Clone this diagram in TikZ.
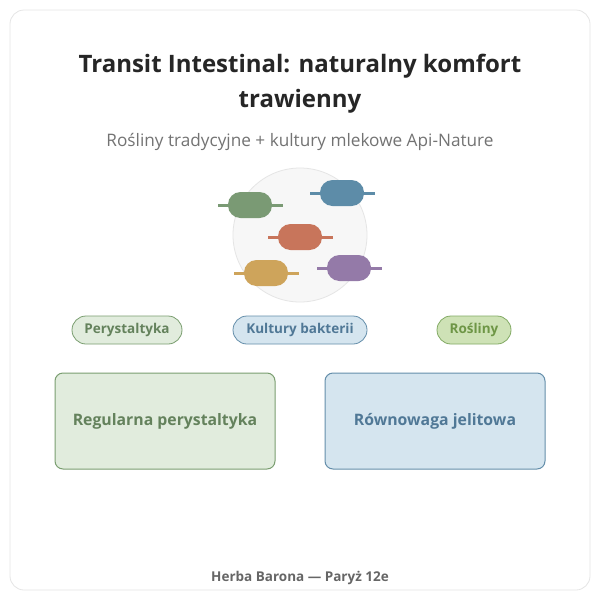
\documentclass[tikz,border=0pt]{standalone}
\usepackage{fontspec}
\setmainfont{Open Sans}
\begin{document}
\begin{tikzpicture}[x=1pt,y=-1pt,
 lab/.style={font=\bfseries\fontsize{13.5}{15}\selectfont}]
\useasboundingbox (0,0) rectangle (600,600);
\draw[draw=black!10,fill=white,rounded corners=14pt,line width=0.8pt] (10,10) rectangle (590,590);
\node[font=\bfseries\fontsize{24}{35}\selectfont,text=black!85,align=center] (t) at (300,84) {Transit Intestinal: naturalny komfort\\trawienny};
\node[font=\fontsize{17.2}{20}\selectfont,text=black!55] (s) at (300,142) {Rośliny tradycyjne + kultury mlekowe Api-Nature};
\node[circle,minimum size=134pt,fill=black!3,draw=black!10,line width=0.8pt] (c) at (300,235) {};
\foreach \x/\y/\c in {250/205/{rgb,255:red,122;green,154;blue,116},342/193/{rgb,255:red,93;green,140;blue,168},300/237/{rgb,255:red,200;green,117;blue,91},266/273/{rgb,255:red,206;green,164;blue,91},349/268/{rgb,255:red,148;green,122;blue,168}}{
 \draw[line width=3pt,color=\c] (\x-32,\y) -- (\x+33,\y);
 \fill[color=\c,rounded corners=12.5pt] (\x-22,\y-13) rectangle (\x+22,\y+13);
}
\definecolor{gf}{RGB}{225,236,221}\definecolor{gd}{RGB}{122,158,112}\definecolor{gt}{RGB}{100,130,92}
\definecolor{bf}{RGB}{213,229,239}\definecolor{bd}{RGB}{100,142,170}\definecolor{bt}{RGB}{80,120,150}
\definecolor{lf}{RGB}{206,226,182}\definecolor{ld}{RGB}{130,170,100}\definecolor{lt}{RGB}{110,150,70}
\node[lab,text=gt,fill=gf,draw=gd,rounded corners=14pt,minimum width=110pt,minimum height=28pt,line width=0.8pt] (p1) at (127,330) {Perystaltyka};
\node[lab,text=bt,fill=bf,draw=bd,rounded corners=14pt,minimum width=134pt,minimum height=28pt,line width=0.8pt] (p2) at (300,330) {Kultury bakterii};
\node[lab,text=lt,fill=lf,draw=ld,rounded corners=14pt,minimum width=74pt,minimum height=28pt,line width=0.8pt] (p3) at (474,330) {Rośliny};
\node[font=\bfseries\fontsize{15.8}{18}\selectfont,text=gt,fill=gf,draw=gd,rounded corners=8pt,minimum width=220pt,minimum height=96pt,line width=1pt] (b1) at (165,421) {Regularna perystaltyka};
\node[font=\bfseries\fontsize{15.8}{18}\selectfont,text=bt,fill=bf,draw=bd,rounded corners=8pt,minimum width=220pt,minimum height=96pt,line width=1pt] (b2) at (435,421) {Równowaga jelitowa};
\node[font=\bfseries\fontsize{13.5}{15}\selectfont,text=black!60] (f) at (300,578) {Herba Barona — Paryż 12e};
\end{tikzpicture}
\end{document}
